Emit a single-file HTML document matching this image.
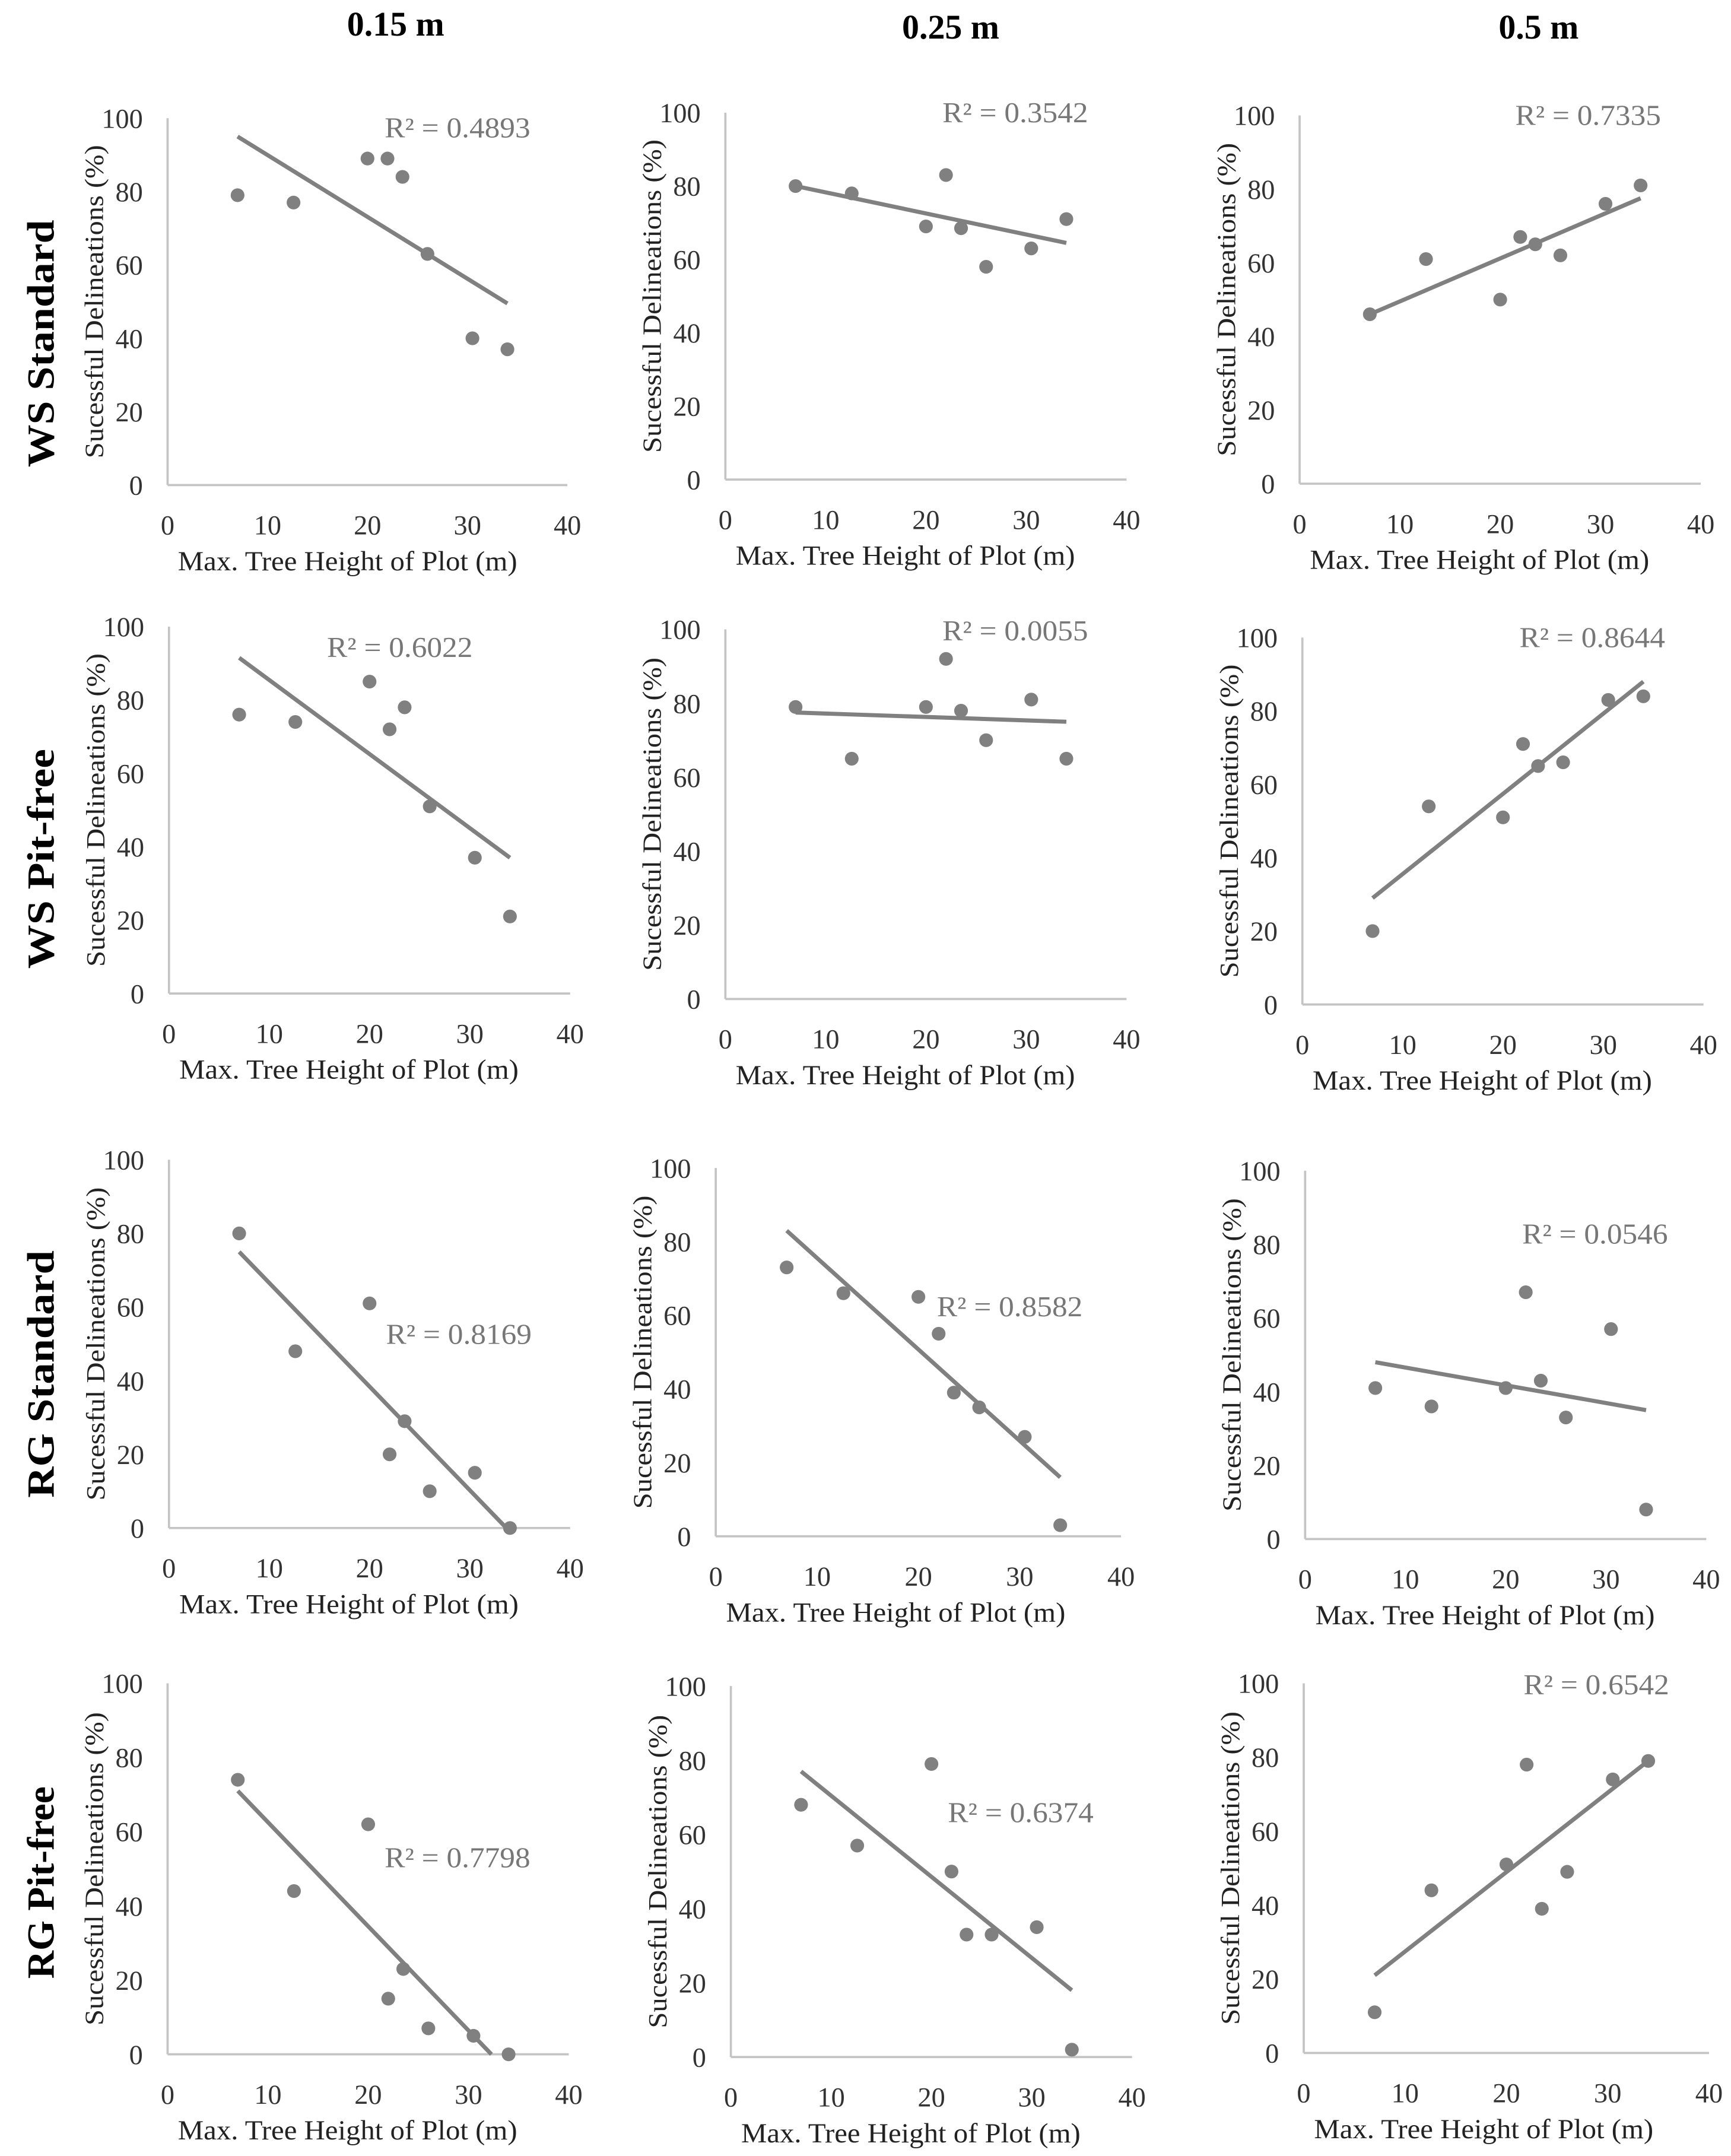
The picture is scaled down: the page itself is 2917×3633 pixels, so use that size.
<!DOCTYPE html>
<html><head><meta charset="utf-8"><style>
html,body{margin:0;padding:0;background:#fff;}
svg{display:block;}
text{font-family:"Liberation Serif",serif;}
</style></head><body>
<svg id="fig" width="2917" height="3633" viewBox="0 0 1260 1569" preserveAspectRatio="none" xmlns="http://www.w3.org/2000/svg">
<rect width="1260" height="1569" fill="#fff"/>
<text x="288" y="26" text-anchor="middle" font-size="25" font-weight="bold">0.15 m</text>
<text x="692" y="28" text-anchor="middle" font-size="25" font-weight="bold">0.25 m</text>
<text x="1120" y="28" text-anchor="middle" font-size="25" font-weight="bold">0.5 m</text>
<text transform="translate(39,250) rotate(-90)" text-anchor="middle" font-size="28" font-weight="bold" textLength="180" lengthAdjust="spacingAndGlyphs">WS Standard</text>
<text transform="translate(39,625) rotate(-90)" text-anchor="middle" font-size="28" font-weight="bold" textLength="160" lengthAdjust="spacingAndGlyphs">WS Pit-free</text>
<text transform="translate(39,1000) rotate(-90)" text-anchor="middle" font-size="28" font-weight="bold" textLength="180" lengthAdjust="spacingAndGlyphs">RG Standard</text>
<text transform="translate(39,1370) rotate(-90)" text-anchor="middle" font-size="28" font-weight="bold" textLength="140" lengthAdjust="spacingAndGlyphs">RG Pit-free</text>
</svg>
<script>
const xValues = [7, 12.6, 20, 22, 23.5, 26, 30.5, 34];
const p1 = [79, 77, 89, 89, 84, 63, 40, 37];
const p2 = [80, 78, 69, 83, 68.5, 58, 63, 71];
const p3 = [46, 61, 50, 67, 65, 62, 76, 81];
const p4 = [76, 74, 85, 72, 78, 51, 37, 21];
const p5 = [79, 65, 79, 92, 78, 70, 81, 65];
const p6 = [20, 54, 51, 71, 65, 66, 83, 84];
const p7 = [80, 48, 61, 20, 29, 10, 15, 0];
const p8 = [73, 66, 65, 55, 39, 35, 27, 3];
const p9 = [41, 36, 41, 67, 43, 33, 57, 8];
const p10 = [74, 44, 62, 15, 23, 7, 5, 0];
const p11 = [68, 57, 79, 50, 33, 33, 35, 2];
const p12 = [11, 44, 51, 78, 39, 49, 74, 79];
const trendStart = [95, 80, 46, 91.5, 77.5, 29, 75, 83, 48, 71, 77, 21];
const trendEnd = [49.5, 64.5, 77.5, 37, 75, 88, -1, 16, 35, -4.8, 18, 79];
const r2Labels = ["0.4893","0.3542","0.7335","0.6022","0.0055","0.8644","0.8169","0.8582","0.0546","0.7798","0.6374","0.6542"];
const xTicks = [0, 10, 20, 30, 40];
const yTicks = [0, 20, 40, 60, 80, 100];
const series = [p1,p2,p3,p4,p5,p6,p7,p8,p9,p10,p11,p12];
const layout = [
 [122,413,86,353,333,100],[528,820,82,349,739,89],[946,1238,84,352,1156,91],
 [123,415,456,723,291,478],[528,820,458,727,739,466],[948,1240,464,731,1159,471],
 [123,415,844,1112,334,978],[521,816,850,1118,735,958],[950,1242,852,1120,1161,905],
 [122,414,1225,1495,333,1359],[532,824,1227,1497,743,1326],[949,1244,1225,1494,1162,1233]
];
const NS="http://www.w3.org/2000/svg";
const svg=document.getElementById('fig');
function mk(tag,attrs,parent){const e=document.createElementNS(NS,tag);for(const k in attrs)e.setAttribute(k,attrs[k]);(parent||svg).appendChild(e);return e;}
series.forEach((vals,i)=>{
  const [x0,x40,y100,y0,lx,ly]=layout[i];
  const sx=v=>x0+(x40-x0)*v/40;
  const sy=v=>y0-(y0-y100)*v/100;
  const g=mk('g',{});
  
  
  const ya=mk('line',{x1:x0,y1:y100,x2:x0,y2:y0,stroke:'#c4c4c4','stroke-width':1.6},g);
  
  
  const xa=mk('line',{x1:x0,y1:y0,x2:x40,y2:y0,stroke:'#c4c4c4','stroke-width':1.6},g);
  
  
  yTicks.forEach(t=>{const e=mk('text',{x:x0-18,y:sy(t)+7,'text-anchor':'end','font-size':20,fill:'#333'},g);e.textContent=t;
    
    });
  xTicks.forEach(t=>{const e=mk('text',{x:sx(t),y:y0+36,'text-anchor':'middle','font-size':20,fill:'#333'},g);e.textContent=t;
    
    });
  const xt=mk('text',{x:x0+131,y:y0+62,'text-anchor':'middle','font-size':20,fill:'#222',textLength:247,lengthAdjust:'spacingAndGlyphs'},g);xt.textContent='Max. Tree Height of Plot (m)';
  
  
  const yt=mk('text',{transform:`translate(${x0-47},${(y100+y0)/2}) rotate(-90)`,'text-anchor':'middle','font-size':19,fill:'#222',textLength:228,lengthAdjust:'spacingAndGlyphs'},g);yt.textContent='Sucessful Delineations (%)';
  
  
  let xa1=7,xb=34,va=trendStart[i],vb=trendEnd[i];
  if(vb<0){xb=xa1+(xb-xa1)*(va-0)/(va-vb);vb=0;}
  const tl=mk('line',{x1:sx(xa1),y1:sy(va),x2:sx(xb),y2:sy(vb),stroke:'#808080','stroke-width':3},g);
  
  
  vals.forEach((v,j)=>{const c=mk('circle',{cx:sx(xValues[j]),cy:sy(v),r:5,fill:'#808080'},g);
    
    });
  const rl=mk('text',{x:lx,y:ly,'text-anchor':'middle','font-size':21,fill:'#777',textLength:106,lengthAdjust:'spacingAndGlyphs'},g);rl.textContent='R² = '+r2Labels[i];
  
  
});
</script>
</body></html>
